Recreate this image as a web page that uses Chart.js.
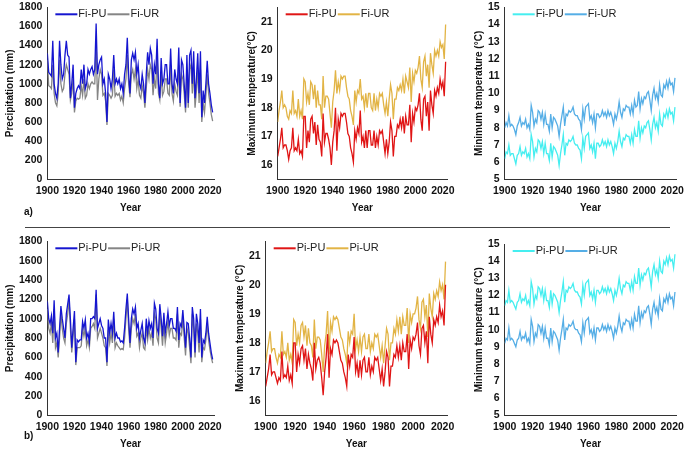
<!DOCTYPE html>
<html>
<head>
<meta charset="utf-8">
<script src="https://cdn.jsdelivr.net/npm/chart.js@4.4.0/dist/chart.umd.min.js"></script>
<style>
  body { margin: 0; background: #fff; font-family: "Liberation Sans", Arial, sans-serif; overflow: hidden; }
  .box { position: absolute; }
  .lab { position: absolute; font-size: 10px; font-weight: bold; color: #111; }
  #sep { position: absolute; left: 25px; top: 227px; width: 645px; height: 1px; background: #444; }
</style>
</head>
<body>
<div class="box" style="left:0;top:0;width:240px;height:214px"><canvas id="c1"></canvas></div>
<div class="box" style="left:232px;top:0;width:235px;height:214px"><canvas id="c2"></canvas></div>
<div class="box" style="left:465px;top:0;width:220px;height:214px"><canvas id="c3"></canvas></div>
<div class="box" style="left:0;top:234px;width:240px;height:216px"><canvas id="c4"></canvas></div>
<div class="box" style="left:226px;top:234px;width:241px;height:216px"><canvas id="c5"></canvas></div>
<div class="box" style="left:465px;top:234px;width:220px;height:216px"><canvas id="c6"></canvas></div>
<div class="lab" style="left:24px;top:206px">a)</div>
<div class="lab" style="left:24px;top:430px">b)</div>
<div id="sep"></div>
<script>
// ---- data (1900-2022) ----
const fiPrecPU = [1320,1120,1100,1080,1450,1000,900,850,1000,1450, 1200,1050,1100,1300,1450,1300,1280,850,1000,1200,
  750,900,950,980,950,1150,1000,1200,950,1000, 1150,1100,1150,1180,1100,1150,1630,1100,1200,1250,
  1280,1000,1050,900,600,1100,1050,950,1050,1300, 1000,1050,1000,1050,950,1000,900,1100,1200,1480,
  1100,900,1250,1320,1250,1330,1100,1200,1000,950, 1100,1000,800,1100,1330,1200,1370,1300,1000,1200,
  1100,1470,1000,850,1270,1000,1050,1200,1200,1000, 1000,1370,1000,900,1150,1050,1000,1380,800,1250,
  1200,1000,750,1300,800,1300,1350,1000,1340,850, 1050,1320,900,1340,650,930,800,1000,1240,1000, 900,780,700];
const fiPrecUR = [1250,980,970,950,1200,900,800,770,900,1250, 1000,920,950,1100,1200,1150,1100,830,900,1050,
  700,820,850,840,850,980,880,1050,850,880, 1000,950,1000,1020,1000,1000,1450,830,1050,1150,
  1100,880,900,820,570,900,880,850,880,1150, 870,900,880,900,830,870,800,950,1050,1300,
  1000,860,1100,1150,1050,1150,950,1050,880,850, 980,900,750,950,1150,1050,1200,1150,880,1050,
  950,1300,900,830,1100,880,920,1050,1050,900, 880,1200,900,820,1000,920,880,1200,760,1100,
  1050,900,700,1150,750,1150,1200,900,1150,750, 920,1150,800,1150,600,800,700,880,1100,900, 800,680,610];
const fiTmaxPU = [16.3,16.6,16.9,17.3,16.6,16.7,16.7,16.5,16.2,16.5, 16.6,17.3,16.5,16.6,16.5,16.9,16.4,16.5,16.3,17.7,
  17.7,16.6,17.2,16.8,17.6,17.7,17.1,17.5,16.7,17.4, 16.9,16.8,16.3,17.8,16.8,17.1,17.1,16.9,16.6,16.0,
  16.8,17.2,18.0,16.5,17.6,17.3,17.8,17.7,17.8,17.8, 17.5,17.1,17.0,16.6,16.4,16.1,17.2,16.9,17.3,17.1,
  17.9,16.8,17.0,16.6,17.2,16.6,17.2,17.2,16.7,16.7, 17.2,16.6,17.0,16.7,17.2,17.1,17.2,16.8,16.4,16.9,
  16.4,16.8,17.5,17.2,16.3,17.0,17.0,17.4,17.3,17.6, 17.3,17.7,17.1,17.7,17.4,17.4,18.1,16.8,17.8,17.5,
  18.0,17.9,18.1,18.5,17.6,17.2,18.3,18.4,17.7,18.2, 17.2,18.6,18.1,17.8,18.6,18.4,18.7,18.5,19.0,18.7, 18.9,18.4,19.6];
const fiTmaxUR = [17.5,17.9,18.2,18.6,18.0,18.1,18.0,17.7,17.6,17.9, 17.8,18.6,17.8,17.9,17.7,18.3,17.7,17.9,17.6,19.0,
  18.9,18.2,18.5,18.1,18.9,18.8,18.3,18.8,18.0,18.6, 18.1,18.1,17.6,19.1,18.0,18.4,18.4,18.3,17.8,17.3,
  18.2,18.6,19.3,18.5,18.9,18.6,19.1,19.0,19.1,19.1, 18.7,18.4,18.3,17.9,17.7,17.4,18.6,18.2,18.6,18.5,
  19.0,18.3,18.4,18.0,18.5,18.0,18.5,18.5,18.0,17.9, 18.5,17.9,18.3,18.0,18.5,18.4,18.5,18.1,17.8,18.2,
  17.7,18.3,18.8,18.5,17.6,18.3,18.3,18.7,18.6,18.8, 18.6,19.0,18.5,19.1,18.9,18.7,19.4,18.2,19.2,18.9,
  19.3,19.2,19.4,19.8,19.0,18.7,19.6,19.8,19.1,19.5, 18.7,19.9,19.5,19.2,20.0,19.8,20.0,19.8,20.3,20.1, 20.2,19.7,20.9];
const fiTminPU = [6.2,6.6,6.5,7.0,6.4,6.5,6.5,6.2,5.9,6.4, 6.5,6.9,6.4,6.6,6.5,6.8,6.3,6.5,6.2,7.6,
  7.2,6.3,6.8,6.6,7.3,7.2,6.8,7.2,6.5,7.1, 6.5,6.5,6.1,7.1,6.3,6.9,6.8,6.6,6.4,5.8,
  6.5,7.0,7.6,6.4,7.1,7.0,7.3,7.2,7.3,7.5, 7.1,7.0,7.0,6.8,6.7,6.2,7.4,6.8,7.5,7.6,
  7.7,6.8,7.0,6.6,7.1,6.2,7.1,7.1,6.9,7.0, 7.3,7.0,7.2,6.9,7.3,7.0,7.2,6.9,6.5,7.1,
  6.8,7.2,7.8,7.2,6.9,7.4,7.3,7.6,7.5,7.5, 7.1,7.6,7.1,7.9,7.5,7.5,8.4,7.4,8.0,7.7,
  8.1,8.0,8.3,8.4,7.9,7.3,8.2,8.6,8.0,8.3, 7.8,8.8,8.2,8.1,8.8,8.6,9.0,8.6,9.1,8.8, 8.9,8.4,9.2];
const fiTminUR = [8.0,8.3,8.1,8.7,8.1,8.2,8.1,7.9,7.6,8.1, 8.3,8.6,8.1,8.3,8.2,8.5,8.0,8.2,7.9,9.3,
  8.9,8.1,8.5,8.3,9.0,8.9,8.5,8.9,8.2,8.8, 8.2,8.2,7.8,8.8,8.0,8.6,8.5,8.3,8.1,7.5,
  8.2,8.7,9.2,8.1,8.8,8.7,9.0,8.9,9.0,9.2, 8.8,8.7,8.7,8.5,8.4,7.9,9.1,8.5,9.2,9.3,
  9.4,8.5,8.7,8.3,8.8,8.0,8.8,8.8,8.6,8.7, 9.0,8.7,8.9,8.6,9.0,8.7,8.9,8.6,8.2,8.8,
  8.5,8.9,9.5,8.9,8.6,9.1,9.0,9.3,9.2,9.2, 8.8,9.3,8.8,9.6,9.2,9.3,10.1,9.1,9.7,9.4,
  9.8,9.7,10.0,10.1,9.6,9.0,9.9,10.3,9.7,10.0, 9.5,10.5,9.9,9.8,10.5,10.3,10.7,10.3,10.8,10.5, 10.6,10.1,10.9];
const piPrecPU = [1180,1000,950,1030,850,1190,800,850,650,900, 1130,1000,900,800,1050,1150,1250,1000,700,900,
  1080,550,780,760,780,780,970,900,990,800, 850,760,1000,1000,1020,1000,1300,900,950,1000,
  930,900,800,800,550,990,850,950,850,1070, 800,850,800,800,760,770,750,900,1100,1260,
  1000,750,1000,1100,1050,1120,900,950,800,880, 950,800,750,1000,850,980,900,950,800,1160,
  1100,900,850,1150,1000,820,1060,850,950,1070, 930,1000,1000,900,900,870,1120,780,950,920,
  1090,900,700,960,950,800,600,1120,1000,650, 1050,950,750,1100,600,780,750,850,1020,850, 750,650,580];
const piPrecUR = [1100,900,850,950,750,1100,700,750,600,800, 1050,900,800,750,950,1050,1200,900,650,820,
  1000,520,700,700,700,720,900,820,900,720, 780,700,900,920,950,900,1250,800,850,900,
  850,800,720,700,510,880,750,850,750,1000, 700,750,720,700,680,690,680,800,1000,1200,
  900,700,900,1000,950,1050,820,850,700,800, 850,700,680,900,780,900,800,850,720,1050,
  1000,800,750,1050,900,720,950,750,850,970, 830,900,900,800,800,780,1050,700,850,830,
  1000,800,620,900,850,700,540,1050,900,600, 950,850,650,1000,550,700,680,780,950,780, 680,600,540];
const piTmaxPU = [16.5,16.8,17.1,17.6,16.9,17.0,17.0,16.8,16.6,16.8, 16.7,17.7,16.8,16.9,16.8,17.2,16.7,16.9,16.6,18.0,
  18.0,17.0,17.6,17.3,17.8,17.9,17.4,17.8,17.1,17.6, 17.3,17.1,16.7,18.0,17.1,17.4,17.5,17.3,16.8,16.2,
  17.0,17.5,18.3,16.8,17.8,17.6,18.1,18.0,18.1,18.0, 17.7,17.4,17.3,17.0,16.8,16.5,17.6,17.2,17.6,17.5,
  18.2,17.0,17.3,16.8,17.4,16.9,17.4,17.5,17.0,17.0, 17.5,16.9,17.2,17.0,17.5,17.4,17.5,17.1,16.7,17.1,
  16.5,17.0,17.7,17.5,16.5,17.2,17.2,17.6,17.5,17.9, 17.5,17.9,17.4,18.0,17.7,17.7,18.3,17.1,18.1,17.8,
  18.2,18.1,18.3,18.7,17.9,17.6,18.5,18.6,18.0,18.4, 17.3,18.9,18.3,18.0,18.8,18.6,18.9,18.7,19.3,18.9, 19.1,18.6,20.0];
const piTmaxUR = [17.3,17.7,18.0,18.4,17.7,17.8,17.8,17.5,17.3,17.6, 17.5,18.4,17.6,17.7,17.5,18.0,17.4,17.6,17.3,18.8,
  18.7,17.9,18.3,18.0,18.6,18.7,18.2,18.6,17.9,18.5, 18.0,17.9,17.5,18.8,17.8,18.2,18.2,18.1,17.6,17.0,
  17.9,18.3,19.1,17.6,18.7,18.4,18.9,18.8,18.9,18.8, 18.5,18.2,18.1,17.8,17.6,17.3,18.4,18.0,18.4,18.3,
  19.0,17.8,18.1,17.7,18.2,17.7,18.2,18.3,17.8,17.8, 18.3,17.7,18.0,17.8,18.3,18.2,18.3,17.9,17.5,17.9,
  17.3,17.9,18.5,18.3,17.4,18.0,18.0,18.5,18.3,18.8, 18.4,18.9,18.3,18.9,18.6,18.6,19.2,18.0,19.0,18.7,
  19.0,19.0,19.2,19.6,18.8,18.5,19.4,19.5,18.9,19.3, 18.2,19.7,19.2,18.9,19.7,19.5,19.8,19.6,20.1,19.8, 20.0,19.5,20.8];
const piTminPU = [11.4,11.7,11.6,12.3,11.6,11.7,11.6,11.4,11.2,11.6, 11.7,12.1,11.6,11.8,11.7,12.0,11.5,11.7,11.4,12.8,
  12.4,11.5,12.0,11.8,12.5,12.4,12.0,12.4,11.7,12.3, 11.7,11.7,11.3,12.3,11.5,12.1,12.0,11.8,11.6,11.0,
  11.7,12.2,12.8,11.6,12.3,12.2,12.5,12.4,12.5,12.7, 12.3,12.2,12.2,12.0,11.9,11.5,12.6,12.0,12.7,12.8,
  12.9,12.0,12.2,11.8,12.3,11.6,12.3,12.3,12.1,12.2, 12.5,12.2,12.4,12.1,12.5,12.2,12.4,12.1,11.7,12.3,
  12.0,12.4,13.0,12.4,12.1,12.6,12.5,12.8,12.7,12.7, 12.3,12.8,12.3,13.1,12.7,12.7,13.6,12.6,13.2,12.9,
  13.3,13.2,13.5,13.6,13.1,12.5,13.4,13.8,13.2,13.5, 13.0,14.0,13.4,13.3,14.0,13.8,14.2,13.8,14.3,14.0, 14.1,13.6,14.4];
const piTminUR = [9.2,9.5,9.4,10.1,9.4,9.5,9.4,9.2,9.0,9.4, 9.5,9.9,9.4,9.6,9.5,9.8,9.3,9.5,9.2,10.6,
  10.2,9.3,9.8,9.6,10.3,10.2,9.8,10.2,9.5,10.1, 9.5,9.5,9.1,10.1,9.3,9.9,9.8,9.6,9.4,8.8,
  9.5,10.0,10.6,9.4,10.1,10.0,10.3,10.2,10.3,10.5, 10.1,10.0,10.0,9.8,9.7,9.3,10.4,9.8,10.5,10.6,
  10.7,9.8,10.0,9.6,10.1,9.4,10.1,10.1,9.9,10.0, 10.3,10.0,10.2,9.9,10.3,10.0,10.2,9.9,9.5,10.1,
  9.8,10.2,10.8,10.2,9.9,10.4,10.3,10.6,10.5,10.5, 10.1,10.6,10.1,10.9,10.5,10.5,11.4,10.4,11.0,10.7,
  11.1,11.0,11.3,11.4,10.9,10.3,11.2,11.6,11.0,11.3, 10.8,11.8,11.2,11.1,11.8,11.6,12.0,11.6,12.1,11.8, 11.9,11.4,12.2];

const yearTicks = [1900, 1920, 1940, 1960, 1980, 2000, 2020];
const precTicks = [0, 200, 400, 600, 800, 1000, 1200, 1400, 1600, 1800];
const tmaxTicks = [16, 17, 18, 19, 20, 21];
const tminTicks = [5, 6, 7, 8, 9, 10, 11, 12, 13, 14, 15];

const startYear = 1900;
const toPoints = arr => arr.map((v, i) => ({ x: startYear + i, y: v }));

// legend drawn inside the plot, like the original
const innerLegend = {
  id: 'innerLegend',
  afterDraw(chart) {
    const ctx = chart.ctx;
    const a = chart.chartArea;
    let x = a.left + 8;
    const y = a.top + 7;
    ctx.save();
    ctx.font = '11px "Liberation Sans", Arial, sans-serif';
    ctx.textBaseline = 'middle';
    chart.data.datasets.forEach(ds => {
      ctx.strokeStyle = ds.borderColor;
      ctx.lineWidth = 2;
      ctx.beginPath(); ctx.moveTo(x, y); ctx.lineTo(x + 22, y); ctx.stroke();
      x += 23;
      ctx.fillStyle = '#222';
      ctx.fillText(ds.label, x, y);
      x += ctx.measureText(ds.label).width + 1;
    });
    ctx.restore();
  }
};

function makePanel(id, names, s1, s2, colors, yMin, yMax, yTicks, yTitle, pad) {
  const tickFont = { family: '"Liberation Sans", Arial, sans-serif', size: 10.5, weight: 'bold' };
  new Chart(document.getElementById(id), {
    type: 'line',
    data: {
      datasets: [
        { label: names[0], data: toPoints(s1), borderColor: colors[0], borderWidth: 1.3, pointRadius: 0, tension: 0 },
        { label: names[1], data: toPoints(s2), borderColor: colors[1], borderWidth: 1.3, pointRadius: 0, tension: 0 }
      ]
    },
    options: {
      responsive: true,
      maintainAspectRatio: false,
      animation: false,
      layout: { padding: pad },
      plugins: { legend: { display: false }, tooltip: { enabled: false } },
      scales: {
        x: {
          type: 'linear', min: 1900, max: 2023,
          afterBuildTicks: s => { s.ticks = yearTicks.map(v => ({ value: v })); },
          grid: { display: false, drawTicks: true, tickLength: 4, color: '#333' },
          border: { color: '#333', width: 1 },
          ticks: { autoSkip: false, color: '#111', font: tickFont, maxRotation: 0, padding: 1,
                   callback: v => String(v) },
          title: { display: true, text: 'Year', color: '#111', font: { ...tickFont, size: 10 }, padding: { top: 4, bottom: 0 } }
        },
        y: {
          min: yMin, max: yMax,
          afterBuildTicks: s => { s.ticks = yTicks.map(v => ({ value: v })); },
          grid: { display: false, drawTicks: true, tickLength: 4, color: '#333' },
          border: { color: '#333', width: 1 },
          ticks: { autoSkip: false, color: '#111', font: tickFont, padding: 1, callback: v => String(v) },
          title: { display: true, text: yTitle, color: '#111', font: { ...tickFont, size: 10 }, padding: { bottom: 2 } }
        }
      }
    },
    plugins: [innerLegend]
  });
}

makePanel('c1', ['Fi-PU', 'Fi-UR'], fiPrecPU, fiPrecUR, ['#1515d0', '#858585'], 0, 1800, precTicks, 'Precipitation (mm)', { top: 0, right: 26, left: 0, bottom: 0 });
makePanel('c2', ['Fi-PU', 'Fi-UR'], fiTmaxPU, fiTmaxUR, ['#e01515', '#e2b445'], 15.5, 21.5, tmaxTicks, 'Maximum temperature(°C)', { top: 0, right: 20, left: 10, bottom: 0 });
makePanel('c3', ['Fi-PU', 'Fi-UR'], fiTminPU, fiTminUR, ['#45eef0', '#55aee6'], 5, 15, tminTicks, 'Minimum temperature (°C)', { top: 0, right: 6, left: 4, bottom: 0 });
makePanel('c4', ['Pi-PU', 'Pi-UR'], piPrecPU, piPrecUR, ['#1515d0', '#858585'], 0, 1800, precTicks, 'Precipitation (mm)', { top: 6, right: 26, left: 0, bottom: 0 });
makePanel('c5', ['Pi-PU', 'Pi-UR'], piTmaxPU, piTmaxUR, ['#e01515', '#e2b445'], 15.5, 21.5, tmaxTicks, 'Maximum temperature (°C)', { top: 6, right: 20, left: 4, bottom: 0 });
makePanel('c6', ['Pi-PU', 'Pi-UR'], piTminPU, piTminUR, ['#45eef0', '#55aee6'], 5, 15, tminTicks, 'Minimum temperature (°C)', { top: 10, right: 6, left: 4, bottom: 0 });
</script>
</body>
</html>
